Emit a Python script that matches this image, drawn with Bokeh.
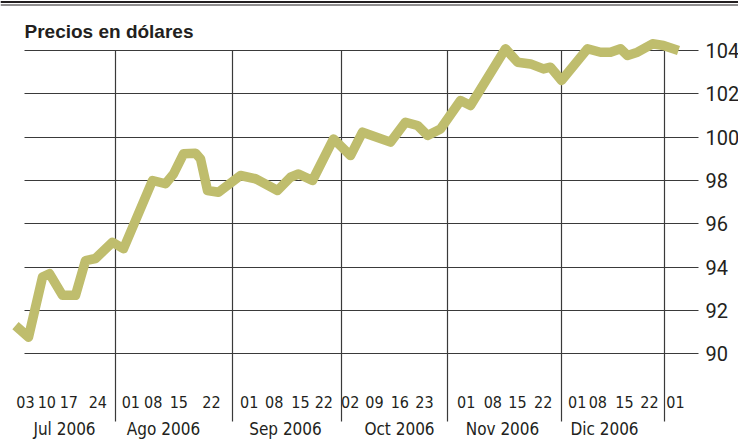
from bokeh.plotting import figure
from bokeh.models import Range1d, FixedTicker, LinearAxis, Grid, Span, Label
from bokeh.embed import file_html
from bokeh.resources import INLINE

# ---------------- data ----------------
# x = trading-session index counted from Mon 03 Jul 2006
session_x = [-2.0, 0.6, 3.4, 4.8, 7.4, 10.0, 12.0, 14.0, 17.4, 19.6,
             25.4, 28.0, 29.6, 31.6, 34.0, 35.0, 36.4, 38.6, 43.0, 46.0,
             50.4, 53.0, 54.6, 57.4, 61.6, 65.0, 67.4, 73.0, 76.0, 78.4,
             80.4, 83.0, 87.0, 89.0, 96.0, 98.4, 101.0, 103.6, 105.0, 107.2,
             112.4, 115.0, 117.0, 119.0, 120.4, 122.4, 125.4, 127.6, 130.6]
price = [91.30, 90.77, 93.54, 93.70, 92.70, 92.70, 94.30, 94.40, 95.15, 94.85,
         98.00, 97.85, 98.30, 99.23, 99.26, 99.00, 97.54, 97.46, 98.23, 98.08,
         97.54, 98.15, 98.30, 98.00, 99.92, 99.15, 100.23, 99.77, 100.69, 100.54,
         100.08, 100.38, 101.69, 101.46, 104.08, 103.46, 103.38, 103.15, 103.23, 102.62,
         104.08, 103.92, 103.92, 104.08, 103.77, 103.92, 104.31, 104.23, 104.00]

week_pos = [0, 4.26, 8.66, 14.46, 21.06, 25.54, 30.66, 37.2, 44.74, 49.74,
            55, 59.66, 64.94, 69.8, 74.86, 79.8, 88.14, 93.46, 98.4, 103.54,
            110.34, 114.46, 119.8, 124.8, 130]
week_labels = ["03", "10", "17", "24", "01", "08", "15", "22", "01", "08",
               "15", "22", "02", "09", "16", "23", "01", "08", "15", "22",
               "01", "08", "15", "22", "01"]
month_pos = [7.8, 27.6, 52.0, 74.8, 95.4, 115.8]
month_labels = ["Jul 2006", "Ago 2006", "Sep 2006", "Oct 2006", "Nov 2006", "Dic 2006"]
month_breaks = [18.0, 41.4, 63.2, 84.34, 107.14, 127.8]
y_ticks = [90, 92, 94, 96, 98, 100, 102, 104]
title_text = "Precios en dólares"

# ---------------- layout geometry (page pixels) ----------------
W, H = 738, 447
X0_PX, PX_PER_X = 25.0, 5.0
Y104_PX, PX_PER_Y = 50.0, 303.33 / 14.0


def dx(px):
    return (px - X0_PX) / PX_PER_X


def dy(py):
    return 104 - (py - Y104_PX) / PX_PER_Y


INK = "#231f20"
GRID = "#3a3a3a"
NARROW = "DejaVu Sans Condensed"

p = figure(width=W, height=H, output_backend="svg", toolbar_location=None,
           x_range=Range1d(dx(0), dx(W)),
           y_range=Range1d(dy(H), dy(0)),
           x_axis_type=None, y_axis_type=None, min_border=0)
p.outline_line_color = None
p.background_fill_color = "white"
p.border_fill_color = "white"

# grids
hgrid = Grid(dimension=1, ticker=FixedTicker(ticks=y_ticks),
             cross_bounds=(dx(24), dx(698)),
             grid_line_color=GRID, grid_line_width=1.2)
vgrid = Grid(dimension=0, ticker=FixedTicker(ticks=month_breaks),
             cross_bounds=(dy(421), 104),
             grid_line_color=GRID, grid_line_width=1.2)
p.add_layout(hgrid)
p.add_layout(vgrid)

# top double rule
p.add_layout(Span(location=dy(1.5), dimension="width", line_color=INK, line_width=2))
p.add_layout(Span(location=dy(4.5), dimension="width", line_color=INK, line_width=1))

# data line
p.line(session_x, price, line_color="#bfbd6d", line_width=9.5, line_join="round")

# right value axis
yax = LinearAxis(ticker=FixedTicker(ticks=y_ticks), fixed_location=dx(698),
                 axis_line_color=None, major_tick_line_color=None,
                 minor_tick_line_color=None, major_label_standoff=1,
                 major_label_text_font="Roboto", major_label_text_font_size="20px",
                 major_label_text_color=INK)
p.add_layout(yax, "right")

# week labels
wax = LinearAxis(ticker=FixedTicker(ticks=week_pos),
                 major_label_overrides={k: v for k, v in zip(week_pos, week_labels)},
                 fixed_location=dy(389),
                 axis_line_color=None, major_tick_line_color=None,
                 minor_tick_line_color=None, major_label_standoff=0,
                 major_label_text_font=NARROW, major_label_text_font_size="16px",
                 major_label_text_color=INK)
p.add_layout(wax, "below")

# month labels
max_ = LinearAxis(ticker=FixedTicker(ticks=month_pos),
                  major_label_overrides={k: v for k, v in zip(month_pos, month_labels)},
                  fixed_location=dy(412),
                  axis_line_color=None, major_tick_line_color=None,
                  minor_tick_line_color=None, major_label_standoff=0,
                  major_label_text_font=NARROW, major_label_text_font_size="17px",
                  major_label_text_color=INK)
p.add_layout(max_, "below")

# title
p.add_layout(Label(x=dx(24), y=dy(31), text=title_text, text_font="Liberation Sans",
                   text_font_style="bold", text_font_size="19px",
                   text_baseline="alphabetic", text_color=INK))

open("out.html", "w").write(file_html(p, INLINE))
